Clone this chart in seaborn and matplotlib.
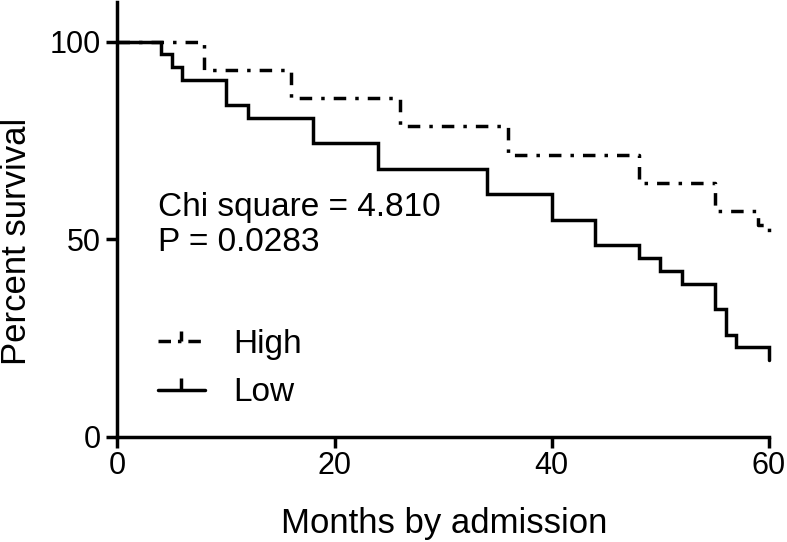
# -*- coding: utf-8 -*-
import pandas as pd
import matplotlib
matplotlib.use("Agg")
import matplotlib.pyplot as plt
from matplotlib.lines import Line2D
import seaborn as sns

# Kaplan-Meier steps (months, percent survival)
high_months = [0, 8, 16, 26, 36, 48, 55, 59, 60]
high_surv = [100, 92.9, 85.7, 78.6, 71.4, 64.3, 57.1, 53.6, 50.0]

low_months = [0, 4, 5, 6, 10, 12, 18, 24, 34, 40, 44, 48, 50, 52, 55, 56, 57, 60]
low_surv = [100, 96.8, 93.5, 90.3, 83.9, 80.6, 74.2, 67.7, 61.3, 54.8, 48.4,
            45.2, 41.9, 38.7, 32.3, 25.8, 22.6, 19.4]

group_labels = ["High", "Low"]
stats_text = "Chi square = 4.810\nP = 0.0283"

x_ticks = [0, 20, 40, 60]
y_ticks = [0, 50, 100]

sns.set_style("ticks", {"axes.edgecolor": "black", "text.color": "black",
                        "axes.labelcolor": "black", "xtick.color": "black",
                        "ytick.color": "black"})
plt.rcParams["font.family"] = ["Liberation Sans", "DejaVu Sans"]

df_high = pd.DataFrame({"Months": high_months, "Survival": high_surv})
df_low = pd.DataFrame({"Months": low_months, "Survival": low_surv})

fig = plt.figure(figsize=(7.87, 5.42), dpi=100)
ax = fig.add_axes([117.3 / 787, 1 - 436.7 / 542, (769 - 117.3) / 787, (436.7 - 2) / 542])

lw = 2.5
dashdot = (0, (3.6, 2.6, 1, 2.6))
sns.lineplot(data=df_high, x="Months", y="Survival", ax=ax, color="black",
             drawstyle="steps-post", estimator=None, sort=False, linewidth=lw,
             linestyle=dashdot, dash_capstyle="butt", clip_on=False)
sns.lineplot(data=df_low, x="Months", y="Survival", ax=ax, color="black",
             drawstyle="steps-post", estimator=None, sort=False, linewidth=lw,
             solid_joinstyle="miter", clip_on=False)

ax.set_xlim(0, 60)
ax.set_ylim(0, 110)
ax.set_xticks(x_ticks)
ax.set_yticks(y_ticks)
sns.despine(ax=ax)
for s in ["left", "bottom"]:
    ax.spines[s].set_linewidth(lw)
ax.tick_params(axis="both", length=8, width=lw, labelsize=22, color="black")
ax.tick_params(axis="x", pad=2)
ax.tick_params(axis="y", pad=4)

ax.set_xlabel("Months by admission", fontsize=25)
ax.set_ylabel("Percent survival", fontsize=25)
ax.xaxis.set_label_coords(0.501, -0.162)
ax.yaxis.set_label_coords(-0.130, 0.45)

ax.text(158 / 787, 1 - 251 / 542, stats_text, transform=fig.transFigure,
        fontsize=24, ha="left", va="baseline", linespacing=1.17)

handles = [
    Line2D([], [], color="black", linewidth=lw, linestyle=(0, (3.6, 2, 1, 2)),
           marker=2, markersize=7, markeredgewidth=lw),
    Line2D([], [], color="black", linewidth=lw, marker=2, markersize=9,
           markeredgewidth=lw),
]
ax.legend(handles, group_labels, loc="upper left", frameon=False, fontsize=24,
          bbox_to_anchor=(158 / 787, 1 - 329 / 542), bbox_transform=fig.transFigure,
          borderpad=0, borderaxespad=0, handlelength=1.4, handletextpad=0.85,
          labelspacing=0.52, numpoints=1)

fig.savefig("out.png", dpi=100)
